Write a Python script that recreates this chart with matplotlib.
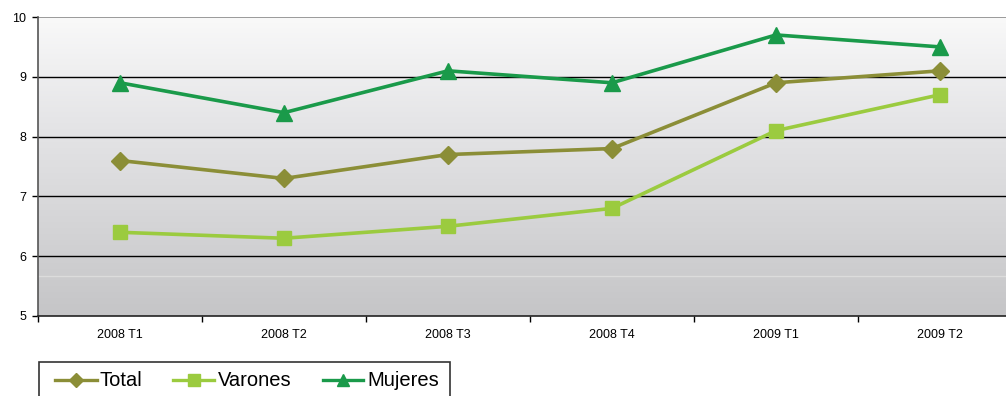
import numpy as np
import matplotlib
matplotlib.use("Agg")
import matplotlib.pyplot as plt
from matplotlib.colors import LinearSegmentedColormap
from matplotlib.patches import Rectangle
from matplotlib.lines import Line2D

categories = ["2008 T1", "2008 T2", "2008 T3", "2008 T4", "2009 T1", "2009 T2"]
total = [7.6, 7.3, 7.7, 7.8, 8.9, 9.1]
varones = [6.4, 6.3, 6.5, 6.8, 8.1, 8.7]
mujeres = [8.9, 8.4, 9.1, 8.9, 9.7, 9.5]
yticks = [5, 6, 7, 8, 9, 10]
series_names = ["Total", "Varones", "Mujeres"]

plt.rcParams['font.family'] = ['Liberation Sans', 'DejaVu Sans']

W, H = 1006, 396
fig = plt.figure(figsize=(W / 100, H / 100), dpi=100)
ax = fig.add_axes([38 / W, 1 - 316 / H, 984 / W, 299 / H])

x = np.arange(len(categories))
ax.set_xlim(-0.5, len(categories) - 0.5)
ax.set_ylim(5, 10)

# gradient background
cmap = LinearSegmentedColormap.from_list("bg", ["#c5c5c7", "#d6d6d8", "#e6e6e8", "#f9f9f9"])
grad = np.linspace(0, 1, 256).reshape(-1, 1)
ax.imshow(grad, cmap=cmap, aspect="auto", origin="lower",
          extent=(-0.5, len(categories) - 0.5, 5, 10), zorder=0)
ax.axhline(5.67, color="#dcdcdc", lw=1.0, zorder=0.5)

for yv in [6, 7, 8, 9]:
    ax.axhline(yv, color="black", lw=1.0, zorder=1)
ax.axhline(10, color="#8a8a8a", lw=1.2, zorder=1)

colors = ["#8b8e37", "#9bcb3f", "#1a9a4a"]
markers = ["D", "s", "^"]
msizes = [9, 10, 11]
for vals, c, m, ms, name in zip([total, varones, mujeres], colors, markers, msizes, series_names):
    ax.plot(x, vals, color=c, lw=2.6, marker=m, markersize=ms, label=name, zorder=3)

for s in ["top", "right"]:
    ax.spines[s].set_visible(False)
ax.spines["left"].set_color("#555555")
ax.spines["bottom"].set_color("#222222")
ax.spines["left"].set_linewidth(1.2)
ax.spines["bottom"].set_linewidth(1.2)

ax.set_yticks(yticks)
ax.set_yticklabels([str(v) for v in yticks], fontsize=9)
ax.tick_params(axis="y", length=4, width=1, pad=4.5, colors="black")

ax.set_xticks(np.arange(-0.5, len(categories), 1.0))
ax.set_xticklabels([])
ax.tick_params(axis="x", which="major", length=4, width=1, direction="out")
ax.set_xticks(x, minor=True)
ax.set_xticklabels(categories, minor=True, fontsize=9)
ax.tick_params(axis="x", which="minor", length=0, pad=9)

# legend drawn in pixel coordinates of the figure
def fx(px):
    return px / W

def fy(py):
    return 1 - py / H

fig.add_artist(Rectangle((fx(38.5), fy(400)), fx(450) - fx(38.5), fy(362) - fy(400),
                         transform=fig.transFigure, facecolor="white",
                         edgecolor="#333333", lw=1.2, zorder=5))
handle_x = [(55, 97), (173, 214), (323, 363)]
text_x = [100, 218, 367]
leg_ms = [7, 8, 9]
ly = 380
for (x0, x1), tx, c, m, ms, name in zip(handle_x, text_x, colors, markers, leg_ms, series_names):
    fig.add_artist(Line2D([fx(x0), fx(x1)], [fy(ly), fy(ly)], transform=fig.transFigure,
                          color=c, lw=2.4, zorder=6))
    fig.add_artist(Line2D([fx((x0 + x1) / 2)], [fy(ly)], transform=fig.transFigure,
                          color=c, marker=m, markersize=ms, lw=0, zorder=7))
    fig.text(fx(tx), fy(ly), name, fontsize=14.5, va="center", ha="left", zorder=7)

fig.savefig("out.png", dpi=100)
